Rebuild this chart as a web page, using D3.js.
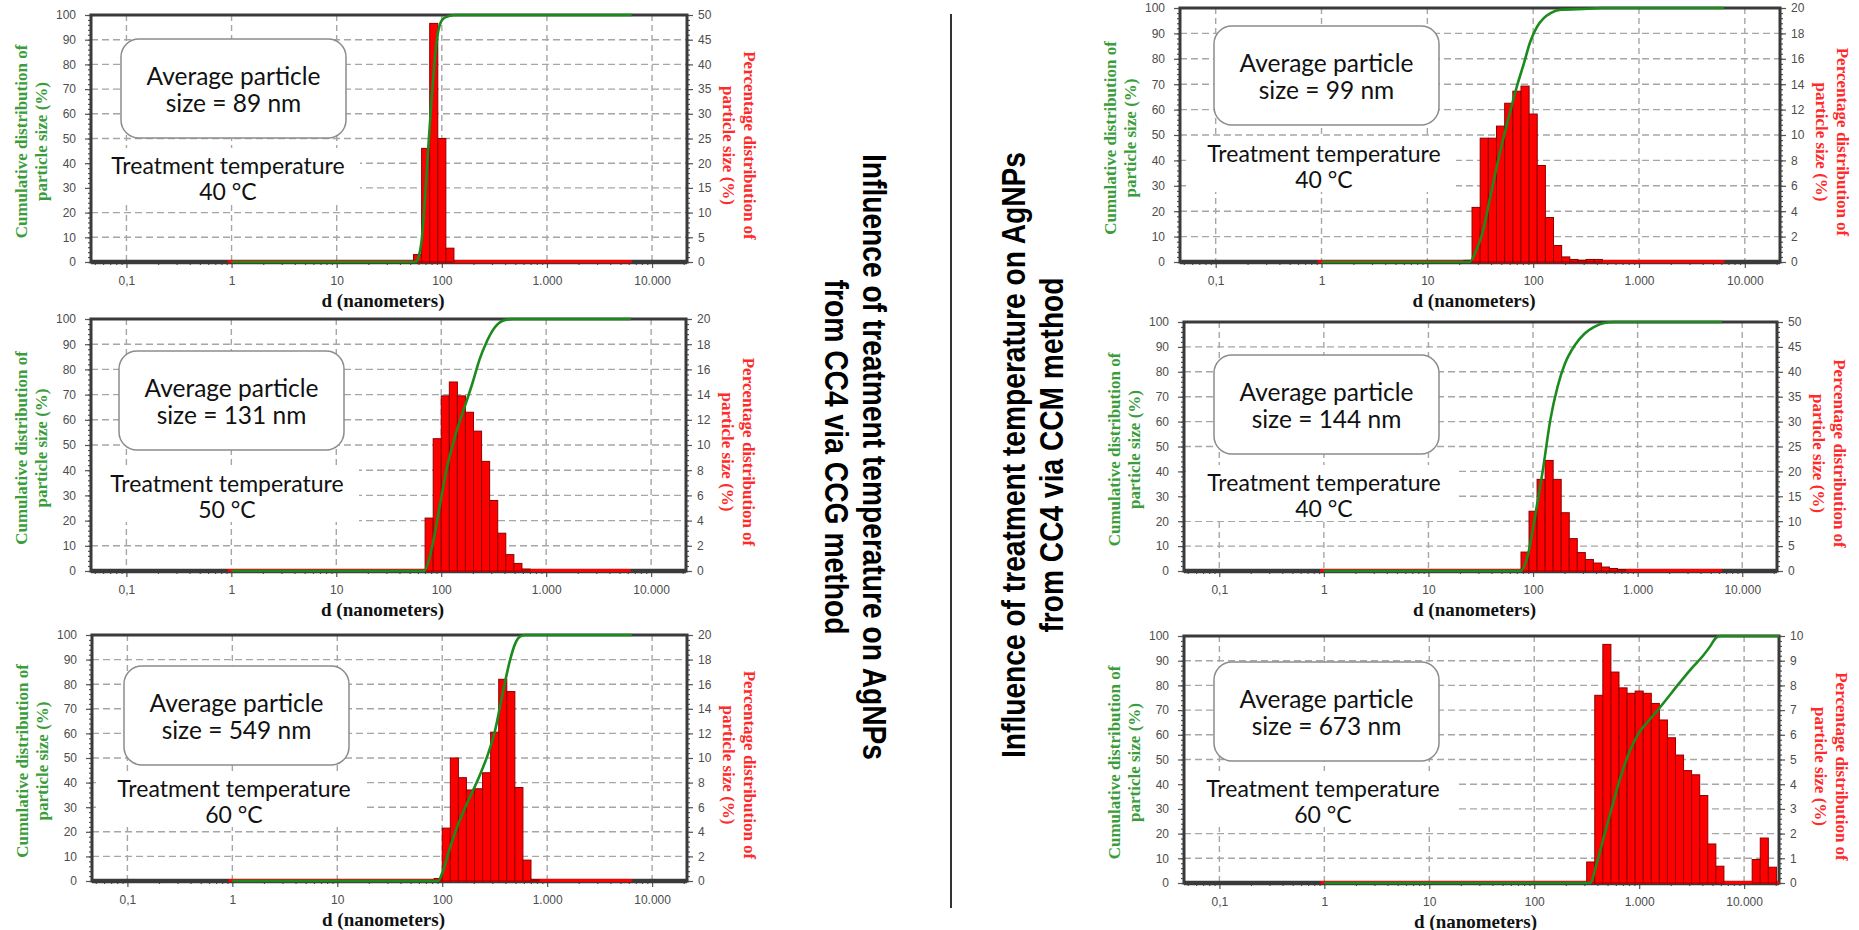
<!DOCTYPE html>
<html>
<head>
<meta charset="utf-8">
<script src="https://cdn.jsdelivr.net/npm/d3@7"></script>
<style>
  html, body { margin: 0; padding: 0; background: #ffffff; }
  svg { display: block; }
</style>
</head>
<body>
<svg id="chart" width="1859" height="930"></svg>
<script>
// ---------- data ----------
const sizeTicks = [0.1, 1, 10, 100, 1000, 10000];
const sizeTickLabels = ["0,1", "1", "10", "100", "1.000", "10.000"];

const ccgTitle = ["Influence of treatment temperature on AgNPs", "from CC4 via CCG method"];
const ccmTitle = ["Influence of treatment temperature on AgNPs", "from CC4 via CCM method"];

const ccgTemperatures = ["40 °C", "50 °C", "60 °C"];
const ccgAverageSize = [89, 131, 549];
const ccmTemperatures = ["40 °C", "40 °C", "60 °C"];
const ccmAverageSize = [99, 144, 673];

// right-hand (percentage) axis maximum and step for each graph
const percentAxisMax = [50, 20, 20, 20, 50, 10];
const percentAxisStep = [5, 2, 2, 2, 5, 1];

// CCG, 40 °C
const ccg40Sizes = [58.8, 70.2, 83.8, 100, 119.4];
const ccg40Percent = [1.5, 23, 48.3, 25, 2.8];
const ccg40Cumulative = [[1, 0], [56, 0], [60, 2], [64, 8], [69, 25], [74, 45], [80, 66], [87, 85], [93, 94], [103, 98.5], [120, 99.7], [133, 100], [6400, 100]];
const ccg40Range = [0.92, 6400];

// CCG, 50 °C
const ccg50Sizes = [76.7, 91.6, 109.3, 130.5, 155.7, 185.8, 221.9, 264.8, 316.2, 377.4, 450.5, 537.7, 641.8];
const ccg50Percent = [4.2, 10.5, 13.9, 15.0, 13.9, 12.6, 11.1, 8.7, 5.6, 3.0, 1.3, 0.6, 0.15];
const ccg50Cumulative = [[1, 0], [69, 0], [77, 5], [86, 14], [99, 28], [112, 40], [139, 55], [170, 66], [200, 75], [232, 84], [268, 90.5], [322, 96.5], [386, 99.3], [480, 100], [6400, 100]];
const ccg50Range = [0.92, 6400];

// CCG, 60 °C
const ccg60Sizes = [91.6, 109.3, 130.5, 155.7, 185.8, 221.9, 264.8, 316.2, 377.4, 450.5, 537.7, 641.8, 766.0];
const ccg60Percent = [0.2, 4.3, 10.0, 8.4, 7.4, 7.5, 8.8, 12.1, 16.4, 15.4, 7.6, 1.7, 0.1];
const ccg60Cumulative = [[1, 0], [91, 0], [101.5, 4], [117.6, 13], [141.5, 23], [170, 31], [228, 43], [275, 52], [318, 61], [356, 71], [397, 81], [444, 90], [496, 96.5], [554, 99.4], [619, 100], [6400, 100]];
const ccg60Range = [0.92, 6400];

// CCM, 40 °C (first run)
const ccm40aSizes = [24.2, 28.9, 34.5, 41.2, 49.2, 58.8, 70.2, 83.8, 100, 119.4, 142.5, 170.1, 203.1, 242.4, 289.4, 345.5, 412.5];
const ccm40aPercent = [0.13, 4.3, 9.75, 9.75, 10.7, 12.5, 13.45, 13.85, 11.65, 7.6, 3.5, 1.3, 0.4, 0.2, 0.13, 0.2, 0.2];
const ccm40aCumulative = [[1, 0], [25, 0], [29, 4.6], [34, 13], [39, 25], [45, 37], [52.5, 49], [61, 59.6], [70, 69], [81.5, 78], [94, 86.8], [109, 92.7], [126, 96], [146, 98], [182, 99.3], [328, 99.7], [440, 100], [6400, 100]];
const ccm40aRange = [0.92, 6400];

// CCM, 40 °C (second run)
const ccm40bSizes = [83.8, 100, 119.4, 142.5, 170.1, 203.1, 242.4, 289.4, 345.5, 412.5, 492.4, 587.8, 701.7];
const ccm40bPercent = [3.8, 12.0, 18.4, 22.2, 18.4, 11.7, 6.5, 3.7, 2.3, 1.6, 0.8, 0.5, 0.3];
const ccm40bCumulative = [[1, 0], [76, 0], [90, 7], [105.5, 23], [124, 40.4], [146, 60.5], [171.5, 74], [202, 83.3], [250, 90.6], [310, 95.3], [385, 98], [478, 99.6], [593, 100], [6400, 100]];
const ccm40bRange = [0.92, 6400];

// CCM, 60 °C
const ccm60Sizes = [345.5, 412.5, 492.4, 587.8, 701.7, 837.7, 1000, 1194, 1425, 1701, 2031, 2424, 2894, 3455, 4125, 4924, 5878, 13040, 15570, 18590];
const ccm60Percent = [0.85, 7.6, 9.66, 8.54, 7.9, 7.68, 7.77, 7.68, 7.27, 6.6, 5.88, 5.18, 4.55, 4.38, 3.54, 1.58, 0.68, 0.95, 1.82, 0.64];
const ccm60Cumulative = [[1, 0], [340, 0], [400, 9], [470, 20], [553, 31], [650, 41.5], [806, 53], [1000, 61], [1250, 66], [1540, 70.5], [1910, 75.5], [2370, 80.5], [3100, 86.5], [4060, 92], [4780, 96], [5320, 99], [5930, 100], [21500, 100]];
const ccm60Range = [0.92, 21500];

// ---------- assemble graphs ----------
const graphs = [
  { sizes: ccg40Sizes, percent: ccg40Percent, cumulative: ccg40Cumulative, range: ccg40Range, avg: ccgAverageSize[0], temp: ccgTemperatures[0] },
  { sizes: ccg50Sizes, percent: ccg50Percent, cumulative: ccg50Cumulative, range: ccg50Range, avg: ccgAverageSize[1], temp: ccgTemperatures[1] },
  { sizes: ccg60Sizes, percent: ccg60Percent, cumulative: ccg60Cumulative, range: ccg60Range, avg: ccgAverageSize[2], temp: ccgTemperatures[2] },
  { sizes: ccm40aSizes, percent: ccm40aPercent, cumulative: ccm40aCumulative, range: ccm40aRange, avg: ccmAverageSize[0], temp: ccmTemperatures[0] },
  { sizes: ccm40bSizes, percent: ccm40bPercent, cumulative: ccm40bCumulative, range: ccm40bRange, avg: ccmAverageSize[1], temp: ccmTemperatures[1] },
  { sizes: ccm60Sizes, percent: ccm60Percent, cumulative: ccm60Cumulative, range: ccm60Range, avg: ccmAverageSize[2], temp: ccmTemperatures[2] }
];

// plot frames and annotation anchors (pixels)
const frames = [
  { L: 91,   R: 687,  T: 15,  B: 262, box: [121, 39],   note: [228, 166] },
  { L: 91,   R: 686,  T: 319, B: 571, box: [119, 351],  note: [227, 484] },
  { L: 92,   R: 687,  T: 635, B: 881, box: [124, 666],  note: [234, 789] },
  { L: 1180, R: 1780, T: 8,   B: 262, box: [1214, 26],  note: [1324, 154] },
  { L: 1184, R: 1777, T: 322, B: 571, box: [1214, 355], note: [1324, 483] },
  { L: 1184, R: 1779, T: 636, B: 883, box: [1214, 662], note: [1323, 789] }
];

// ---------- styles ----------
const C = {
  frame: "#3a3a3a",
  grid: "#a6a6a6",
  tick: "#555555",
  tickText: "#4d4d4d",
  bar: "#ff0000",
  barEdge: "#8a0000",
  cumLine: "#1c8a1c",
  greenText: "#3a9d3a",
  redText: "#ff2a2a"
};
const sansFont = "'Liberation Sans', Arial, sans-serif";
const serifFont = "'Liberation Serif', 'Times New Roman', serif";
const noteFont = "Lato, 'Open Sans', sans-serif";
const titleFont = "'Liberation Sans', Arial, sans-serif";

const svg = d3.select("#chart");
const binHalf = Math.pow(10, 1 / 26); // half of one logarithmic size class

graphs.forEach((g, i) => {
  const f = frames[i];
  const root = svg.append("g").attr("class", "graph");

  const x = d3.scaleLog().domain([0.046, 21500]).range([f.L, f.R]);
  const yCum = d3.scaleLinear().domain([0, 100]).range([f.B, f.T]);
  const yPct = d3.scaleLinear().domain([0, percentAxisMax[i]]).range([f.B, f.T]);

  const clipId = "clip" + i;
  root.append("clipPath").attr("id", clipId)
    .append("rect").attr("x", f.L).attr("y", f.T - 3).attr("width", f.R - f.L).attr("height", f.B - f.T + 6);

  // grid
  const grid = root.append("g");
  grid.selectAll("line.h").data(d3.range(10, 100, 10)).join("line")
    .attr("x1", f.L).attr("x2", f.R)
    .attr("y1", d => yCum(d)).attr("y2", d => yCum(d))
    .attr("stroke", C.grid).attr("stroke-width", 1.4).attr("stroke-dasharray", "7,4");
  grid.selectAll("line.v").data(sizeTicks).join("line")
    .attr("x1", d => x(d)).attr("x2", d => x(d))
    .attr("y1", f.T).attr("y2", f.B)
    .attr("stroke", C.grid).attr("stroke-width", 1.4).attr("stroke-dasharray", "6,4");

  // white ground behind the treatment temperature note
  const [nx, ny] = f.note;
  root.append("rect")
    .attr("x", nx - 138).attr("y", ny - 18).attr("width", 270).attr("height", 56)
    .attr("fill", "#ffffff");

  // average size box
  const [bx, by] = f.box;
  root.append("rect")
    .attr("x", bx).attr("y", by).attr("width", 225).attr("height", 99)
    .attr("rx", 18).attr("ry", 18)
    .attr("fill", "#ffffff").attr("stroke", "#8c8c8c").attr("stroke-width", 1.5);

  // axes
  const xAxis = d3.axisBottom(x).tickValues(sizeTicks).tickFormat((d, k) => sizeTickLabels[k]).tickSize(6).tickPadding(8);
  const minor = [];
  for (let e = -2; e <= 4; e++) for (let m = 2; m <= 9; m++) {
    const v = m * Math.pow(10, e);
    if (v > 0.046 && v < 21500) minor.push(v);
  }
  const xMinor = d3.axisBottom(x).tickValues(minor).tickFormat("").tickSize(3);
  const leftAxis = d3.axisLeft(yCum).tickValues(d3.range(0, 101, 10)).tickSize(6).tickPadding(9);
  const leftMinor = d3.axisLeft(yCum).tickValues(d3.range(0, 101, 2)).tickFormat("").tickSize(3);
  const pMax = percentAxisMax[i], pStep = percentAxisStep[i];
  const rightAxis = d3.axisRight(yPct).tickValues(d3.range(0, pMax + pStep / 2, pStep)).tickSize(6).tickPadding(5);
  const rightMinor = d3.axisRight(yPct).tickValues(d3.range(0, pMax + pStep / 10, pStep / 5)).tickFormat("").tickSize(3);

  const styleAxis = sel => {
    sel.select(".domain").remove();
    sel.selectAll(".tick line").attr("stroke", C.tick).attr("stroke-width", 1.2);
    sel.selectAll(".tick text").attr("fill", C.tickText).style("font-family", sansFont).style("font-size", "12px");
  };
  root.append("g").attr("transform", `translate(0,${f.B})`).call(xMinor).call(styleAxis);
  root.append("g").attr("transform", `translate(0,${f.B})`).call(xAxis).call(styleAxis);
  root.append("g").attr("transform", `translate(${f.L},0)`).call(leftMinor).call(styleAxis);
  root.append("g").attr("transform", `translate(${f.L},0)`).call(leftAxis).call(styleAxis);
  root.append("g").attr("transform", `translate(${f.R},0)`).call(rightMinor).call(styleAxis);
  root.append("g").attr("transform", `translate(${f.R},0)`).call(rightAxis).call(styleAxis);

  // frame
  root.append("rect")
    .attr("x", f.L).attr("y", f.T).attr("width", f.R - f.L).attr("height", f.B - f.T)
    .attr("fill", "none").attr("stroke", C.frame).attr("stroke-width", 3);
  root.append("line")
    .attr("x1", f.L).attr("x2", f.R).attr("y1", f.B).attr("y2", f.B)
    .attr("stroke", C.frame).attr("stroke-width", 4.5);

  const plot = root.append("g").attr("clip-path", `url(#${clipId})`);

  // measured size range along the baseline
  plot.append("line")
    .attr("x1", x(g.range[0])).attr("x2", x(g.range[1]))
    .attr("y1", f.B - 0.5).attr("y2", f.B - 0.5)
    .attr("stroke", C.bar).attr("stroke-width", 3);

  // histogram bars
  const bins = g.sizes.map((s, k) => ({ size: s, value: g.percent[k] }));
  plot.selectAll("rect.bar").data(bins).join("rect")
    .attr("class", "bar")
    .attr("x", d => x(d.size / binHalf))
    .attr("width", d => x(d.size * binHalf) - x(d.size / binHalf))
    .attr("y", d => yPct(d.value))
    .attr("height", d => yPct(0) - yPct(d.value))
    .attr("fill", C.bar).attr("stroke", C.barEdge).attr("stroke-width", 1);

  // cumulative curve
  const line = d3.line().x(d => x(d[0])).y(d => yCum(d[1])).curve(d3.curveMonotoneX);
  plot.append("path").datum(g.cumulative)
    .attr("d", line).attr("fill", "none")
    .attr("stroke", C.cumLine).attr("stroke-width", 2.6).attr("stroke-linejoin", "round");

  // annotation text
  const bcx = bx + 112.5;
  root.append("text").attr("x", bcx).attr("y", by + 37).attr("dy", "0.35em")
    .attr("text-anchor", "middle").style("font-family", noteFont).style("font-size", "24.5px").attr("fill", "#111")
    .text("Average particle");
  root.append("text").attr("x", bcx).attr("y", by + 64).attr("dy", "0.35em")
    .attr("text-anchor", "middle").style("font-family", noteFont).style("font-size", "24.5px").attr("fill", "#111")
    .text(`size = ${g.avg} nm`);
  root.append("text").attr("x", nx).attr("y", ny).attr("dy", "0.35em")
    .attr("text-anchor", "middle").style("font-family", noteFont).style("font-size", "23px").attr("fill", "#111")
    .text("Treatment temperature");
  root.append("text").attr("x", nx).attr("y", ny + 26).attr("dy", "0.35em")
    .attr("text-anchor", "middle").style("font-family", noteFont).style("font-size", "23px").attr("fill", "#111")
    .text(g.temp);

  // axis titles
  root.append("text")
    .attr("x", (f.L + f.R) / 2 - 6).attr("y", f.B + 45)
    .attr("text-anchor", "middle")
    .style("font-family", serifFont).style("font-weight", "bold").style("font-size", "19px").attr("fill", "#111")
    .text("d (nanometers)");

  const cy = (f.T + f.B) / 2;
  const leftTitle = root.append("g").attr("transform", `translate(${f.L - 64},${cy + 3}) rotate(-90)`)
    .style("font-family", serifFont).style("font-weight", "bold").style("font-size", "17px").attr("fill", C.greenText);
  leftTitle.append("text").attr("text-anchor", "middle").attr("y", 0).text("Cumulative distribution of");
  leftTitle.append("text").attr("text-anchor", "middle").attr("y", 20).text("particle size (%)");

  const rightTitle = root.append("g").attr("transform", `translate(${f.R + 57},${cy + 7}) rotate(90)`)
    .style("font-family", serifFont).style("font-weight", "bold").style("font-size", "17px").attr("fill", C.redText);
  rightTitle.append("text").attr("text-anchor", "middle").attr("y", 0).text("Percentage distribution of");
  rightTitle.append("text").attr("text-anchor", "middle").attr("y", 21).text("particle size (%)");
});

// ---------- centre titles and divider ----------
svg.append("line")
  .attr("x1", 951).attr("x2", 951).attr("y1", 14).attr("y2", 908)
  .attr("stroke", "#333").attr("stroke-width", 2);

const ccgG = svg.append("g").attr("transform", "translate(863,457) rotate(90)")
  .style("font-family", titleFont).style("font-size", "33px").style("font-weight", "bold")
  .attr("fill", "#000");
ccgG.append("text").attr("text-anchor", "middle").attr("y", 0)
  .attr("textLength", 606).attr("lengthAdjust", "spacingAndGlyphs").text(ccgTitle[0]);
ccgG.append("text").attr("text-anchor", "middle").attr("y", 38)
  .attr("textLength", 355).attr("lengthAdjust", "spacingAndGlyphs").text(ccgTitle[1]);

const ccmG = svg.append("g").attr("transform", "translate(1025,455) rotate(-90)")
  .style("font-family", titleFont).style("font-size", "33px").style("font-weight", "bold")
  .attr("fill", "#000");
ccmG.append("text").attr("text-anchor", "middle").attr("y", 0)
  .attr("textLength", 606).attr("lengthAdjust", "spacingAndGlyphs").text(ccmTitle[0]);
ccmG.append("text").attr("text-anchor", "middle").attr("y", 38)
  .attr("textLength", 355).attr("lengthAdjust", "spacingAndGlyphs").text(ccmTitle[1]);
</script>
</body>
</html>
